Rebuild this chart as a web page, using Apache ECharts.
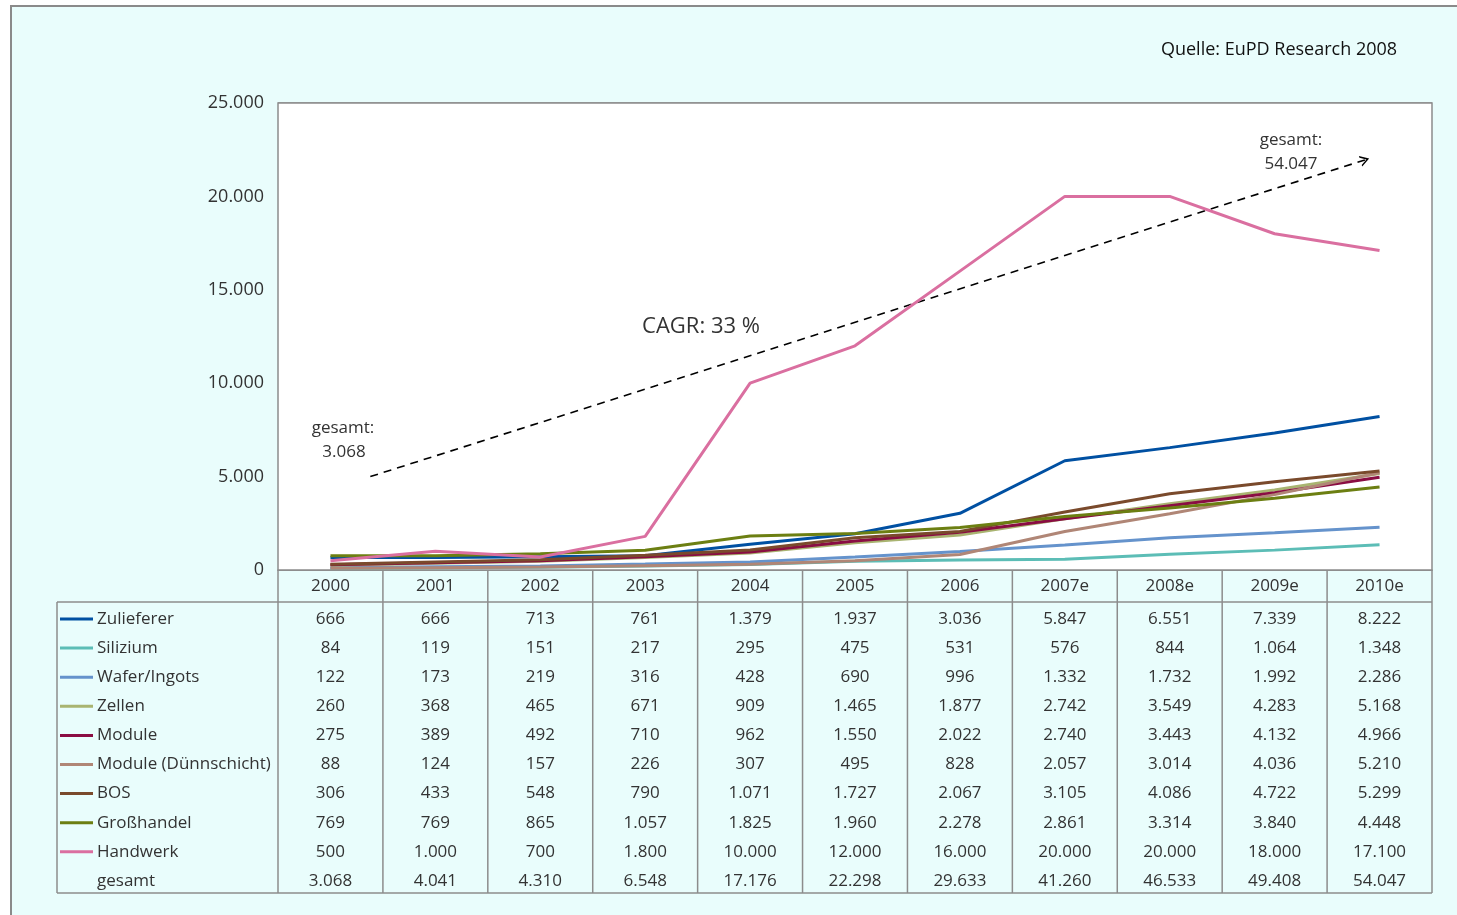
<!DOCTYPE html>
<html>
<head>
<meta charset="utf-8">
<script src="https://cdn.jsdelivr.net/npm/echarts@6/dist/echarts.min.js"></script>
<style>
html,body{margin:0;padding:0;background:#fff;}
#chart{width:1457px;height:915px;}
</style>
</head>
<body>
<div id="chart"></div>
<script>
const years = ['2000','2001','2002','2003','2004','2005','2006','2007e','2008e','2009e','2010e'];
const yTicks = [0, 5000, 10000, 15000, 20000, 25000];
const zulieferer = [666,666,713,761,1379,1937,3036,5847,6551,7339,8222];
const silizium = [84,119,151,217,295,475,531,576,844,1064,1348];
const waferIngots = [122,173,219,316,428,690,996,1332,1732,1992,2286];
const zellen = [260,368,465,671,909,1465,1877,2742,3549,4283,5168];
const module_ = [275,389,492,710,962,1550,2022,2740,3443,4132,4966];
const moduleDS = [88,124,157,226,307,495,828,2057,3014,4036,5210];
const bos = [306,433,548,790,1071,1727,2067,3105,4086,4722,5299];
const grosshandel = [769,769,865,1057,1825,1960,2278,2861,3314,3840,4448];
const handwerk = [500,1000,700,1800,10000,12000,16000,20000,20000,18000,17100];
const gesamt = [3068,4041,4310,6548,17176,22298,29633,41260,46533,49408,54047];
const seriesNames = ['Zulieferer','Silizium','Wafer/Ingots','Zellen','Module','Module (Dünnschicht)','BOS','Großhandel','Handwerk'];
const seriesData = [zulieferer, silizium, waferIngots, zellen, module_, moduleDS, bos, grosshandel, handwerk];
const colors = ['#0050A2','#5CBDB6','#6593CC','#A9B471','#8A0D43','#B08676','#7A4A2C','#6C7F12','#DA6FA0'];
// CAGR trend arrow endpoints (start total 3.068 → end total 54.047), as category-position / value pairs
const trendStart = [0.38, 5000];
const trendEnd = [9.86, 21950];

const FONT = 'Open Sans';
const fmt = n => String(n).replace(/\B(?=(\d{3})+(?!\d))/g, '.');

const chart = echarts.init(document.getElementById('chart'), null, {renderer: 'canvas'});

const GRID = {left: 278, top: 103, width: 1154, height: 467};
const TABLE_LEFT = 57, TABLE_TOP = 602, ROW_H = 29.1, TABLE_BOTTOM = 893;
const LINE_COL = '#8c8c8c';

const series = seriesNames.map((name, i) => ({
  name: name,
  type: 'line',
  data: seriesData[i],
  showSymbol: false,
  symbol: 'none',
  lineStyle: {width: 3, color: colors[i]},
  itemStyle: {color: colors[i]},
  z: 3 + i,
  silent: true
}));

series.push({
  name: 'trend',
  type: 'line',
  xAxisIndex: 1,
  yAxisIndex: 0,
  data: [trendStart, trendEnd],
  showSymbol: false,
  symbol: 'none',
  lineStyle: {opacity: 0},
  silent: true,
  z: 20,
  markLine: {
    silent: true,
    animation: false,
    symbol: ['none', 'path://M0,10 L5,0 L10,10 L8.4,10 L5,3.2 L1.6,10 Z'],
    symbolSize: [11, 9],
    label: {show: false},
    lineStyle: {type: [8, 6], color: '#000', width: 1.6},
    data: [[{coord: trendStart}, {coord: trendEnd}]]
  }
});

chart.setOption({
  animation: false,
  backgroundColor: '#ffffff',
  textStyle: {fontFamily: FONT},
  grid: Object.assign({show: true, backgroundColor: '#ffffff', borderColor: LINE_COL, borderWidth: 1.5, z: 1}, GRID),
  legend: {
    data: seriesNames,
    orient: 'vertical',
    left: 60,
    top: 604.5,
    padding: 0,
    itemGap: 0.1,
    itemWidth: 33,
    itemHeight: 3,
    icon: 'rect',
    selectedMode: false,
    textStyle: {fontFamily: FONT, fontSize: 17, color: '#333', lineHeight: 29, padding: [0, 0, 0, -1]}
  },
  xAxis: [{
    type: 'category',
    data: years,
    boundaryGap: true,
    axisLine: {show: true, lineStyle: {color: LINE_COL, width: 1.5}},
    axisTick: {show: false},
    axisLabel: {fontFamily: FONT, fontSize: 17, color: '#333', margin: 8},
    splitLine: {show: false}
  }, {
    type: 'value',
    min: -0.5,
    max: 10.5,
    show: false
  }],
  yAxis: {
    type: 'value',
    min: 0,
    max: 25000,
    interval: 5000,
    axisLine: {show: false},
    axisTick: {show: false},
    axisLabel: {fontFamily: FONT, fontSize: 18, color: '#333', margin: 14, padding: [4, 0, 0, 0], formatter: v => fmt(v)},
    splitLine: {show: true, lineStyle: {color: LINE_COL, width: 1.5}}
  },
  series: series
});

// Build table, frame and annotations using the axis scale
const colX = years.map((y, i) => chart.convertToPixel({xAxisIndex: 0}, i));
const step = colX[1] - colX[0];
const edges = [];
for (let k = 0; k <= years.length; k++) edges.push(colX[0] - step / 2 + k * step);
const right = edges[edges.length - 1];

const graphics = [];
// outer frame (light cyan panel)
graphics.push({type: 'rect', z: -10, shape: {x: 11, y: 6, width: 1470, height: 930}, style: {fill: '#E9FDFC', stroke: '#8a8a8a', lineWidth: 2}});
// table lines
edges.forEach(x => graphics.push({type: 'line', z: 0, shape: {x1: x, y1: GRID.top + GRID.height, x2: x, y2: TABLE_BOTTOM}, style: {stroke: LINE_COL, lineWidth: 1.5}}));
graphics.push({type: 'line', z: 0, shape: {x1: TABLE_LEFT, y1: TABLE_TOP, x2: right, y2: TABLE_TOP}, style: {stroke: LINE_COL, lineWidth: 1.5}});
graphics.push({type: 'line', z: 0, shape: {x1: TABLE_LEFT, y1: TABLE_BOTTOM, x2: right, y2: TABLE_BOTTOM}, style: {stroke: LINE_COL, lineWidth: 1.5}});
graphics.push({type: 'line', z: 0, shape: {x1: TABLE_LEFT, y1: TABLE_TOP, x2: TABLE_LEFT, y2: TABLE_BOTTOM}, style: {stroke: LINE_COL, lineWidth: 1.5}});

const rows = seriesData.concat([gesamt]);
rows.forEach((arr, r) => {
  const cy = TABLE_TOP + ROW_H * (r + 0.5) + 2.5;
  arr.forEach((v, c) => {
    graphics.push({type: 'text', z: 5, style: {x: colX[c], y: cy, text: fmt(v), fill: '#333', font: '17px "' + FONT + '"', align: 'center', verticalAlign: 'middle'}});
  });
});
// gesamt row label
graphics.push({type: 'text', z: 5, style: {x: 97, y: TABLE_TOP + ROW_H * 9.5 + 2.5, text: 'gesamt', fill: '#333', font: '17px "' + FONT + '"', align: 'left', verticalAlign: 'middle'}});

// annotations
const ann = (x, y, t, size, color) => graphics.push({type: 'text', z: 30, style: {x: x, y: y, text: t, fill: color || '#333', font: size + 'px "' + FONT + '"', align: 'center', verticalAlign: 'middle'}});
ann(1279, 50, 'Quelle: EuPD Research 2008', 18, '#111');
ann(343, 428, 'gesamt:', 17);
ann(344, 452, '3.068', 17);
ann(701, 327, 'CAGR: 33 %', 22);
ann(1291, 140, 'gesamt:', 17);
ann(1291, 164, '54.047', 17);

chart.setOption({graphic: graphics});
</script>
</body>
</html>
